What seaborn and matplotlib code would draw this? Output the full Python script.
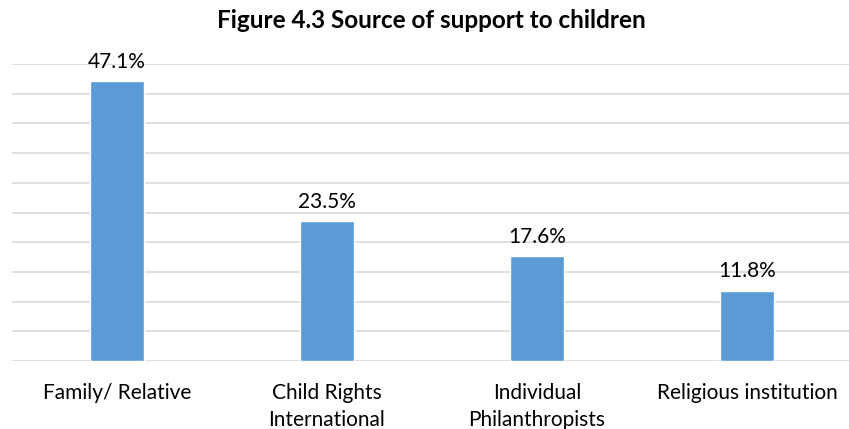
import matplotlib
matplotlib.use("Agg")
import matplotlib.pyplot as plt
import seaborn as sns
import pandas as pd

categories = ["Family/ Relative", "Child Rights\nInternational", "Individual\nPhilanthropists", "Religious institution"]
values = [47.1, 23.5, 17.6, 11.8]
labels = ["47.1%", "23.5%", "17.6%", "11.8%"]

sns.set_theme(style="white")
plt.rcParams['font.family'] = ['Lato', 'DejaVu Sans']

df = pd.DataFrame({"cat": categories, "val": values})

W, H = 849, 429
fig = plt.figure(figsize=(W / 100, H / 100), dpi=100)
ax = fig.add_axes([12 / W, (H - 361) / H, 837 / W, 297 / H])

sns.barplot(data=df, x="cat", y="val", color="#5b9bd5", saturation=1, width=0.26, ax=ax, zorder=3)

ax.set_ylim(0, 50)
ax.set_xlim(-0.5, -0.5 + 837 / 210)
ax.set_yticks(range(0, 51, 5))
ax.yaxis.grid(True, color="#d9d9d9", linewidth=1.2, zorder=0)
ax.set_axisbelow(True)
ax.tick_params(axis="y", left=False, labelleft=False)
ax.tick_params(axis="x", bottom=False, labelsize=15, colors="black", pad=10)
for lbl in ax.get_xticklabels():
    lbl.set_linespacing(1.45)
for s in ax.spines.values():
    s.set_visible(False)
ax.set_xlabel("")
ax.set_ylabel("")

for i, (v, t) in enumerate(zip(values, labels)):
    ax.annotate(t, (i, v), xytext=(0, 7), textcoords="offset points",
                ha="center", va="bottom", fontsize=15, color="black")

fig.text(431 / W, 1 - 21 / H, "Figure 4.3 Source of support to children",
         ha="center", va="center", fontsize=17.5, fontweight="bold", color="black")

fig.savefig("out.png", dpi=100)
